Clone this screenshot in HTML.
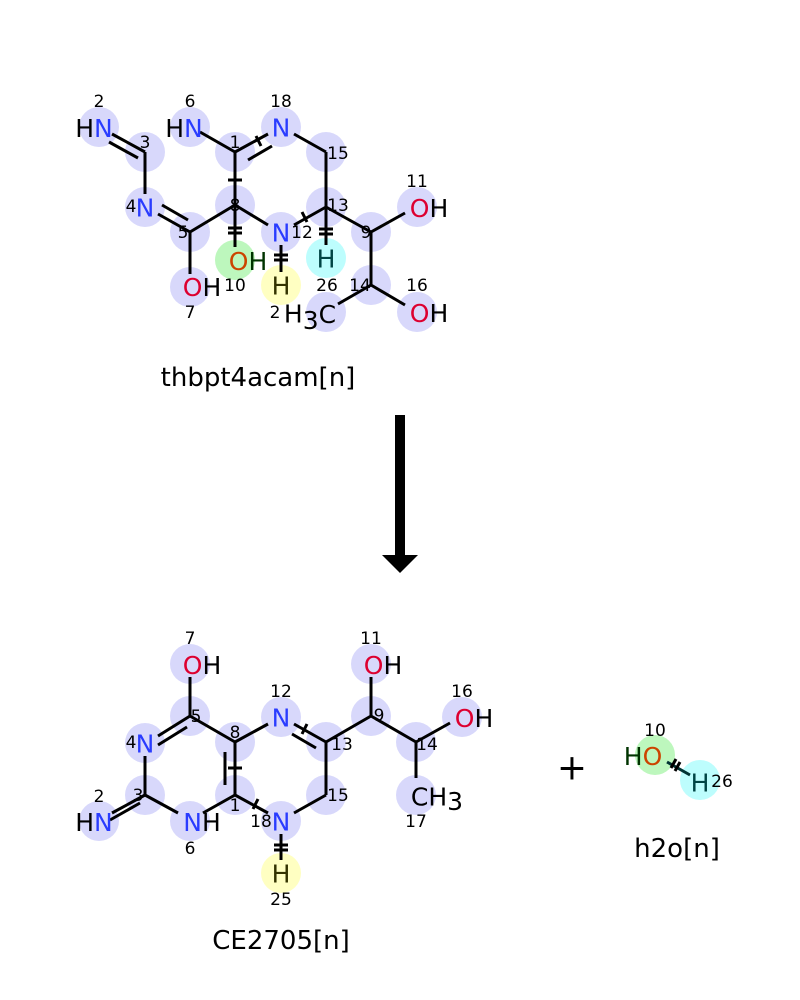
<!DOCTYPE html>
<html><head><meta charset="utf-8"><style>
html,body{margin:0;padding:0;background:#fff;}
svg{display:block;}
text{font-family:"DejaVu Sans","Liberation Sans",sans-serif;}
.a{font-size:25px;text-anchor:middle;dominant-baseline:central;}
.n{font-size:17px;text-anchor:middle;dominant-baseline:central;fill:#000;}
.t{font-size:26px;text-anchor:middle;dominant-baseline:central;}
.b{stroke:#000;stroke-width:3;fill:none;}
.c{fill:#d8d8fb;}
.N{fill:#2a3cff;} .O{fill:#dd0030;}
</style></head><body>
<svg width="800" height="1000" viewBox="0 0 800 1000" xmlns="http://www.w3.org/2000/svg">
<g class="c">
<circle cx="99" cy="127" r="20"/><circle cx="145" cy="152" r="20"/><circle cx="190" cy="127" r="20"/>
<circle cx="235" cy="152" r="20"/><circle cx="281" cy="127" r="20"/><circle cx="326" cy="152" r="20"/>
<circle cx="235" cy="205" r="20"/><circle cx="145" cy="207" r="20"/><circle cx="190" cy="232" r="20"/>
<circle cx="281" cy="232" r="20"/><circle cx="326" cy="207" r="20"/><circle cx="371" cy="232" r="20"/>
<circle cx="417" cy="207" r="20"/><circle cx="190" cy="287" r="20"/><circle cx="371" cy="285" r="20"/>
<circle cx="417" cy="312" r="20"/><circle cx="326" cy="312" r="20"/>
</g>
<circle cx="235" cy="260" r="20" fill="#bdf7bd"/>
<circle cx="326" cy="258" r="20" fill="#bdfdfd"/>
<circle cx="281" cy="285" r="20" fill="#ffffc2"/>
<g class="b">
<line x1="112" y1="134" x2="145" y2="152"/><line x1="109" y1="142" x2="138" y2="158"/>
<line x1="145" y1="152" x2="145" y2="194"/>
<line x1="158" y1="214" x2="190" y2="232"/><line x1="162" y1="205" x2="188" y2="220"/>
<line x1="190" y1="232" x2="235" y2="205"/>
<line x1="190" y1="232" x2="190" y2="274"/>
<line x1="235" y1="205" x2="235" y2="152"/><line x1="228" y1="180" x2="242" y2="180"/>
<line x1="235" y1="152" x2="200" y2="132"/>
<line x1="235" y1="152" x2="268" y2="134"/><line x1="248" y1="160" x2="272" y2="146"/><line x1="256" y1="136" x2="261" y2="146"/>
<line x1="294" y1="134" x2="326" y2="152"/>
<line x1="326" y1="152" x2="326" y2="207"/>
<line x1="326" y1="207" x2="294" y2="225"/><line x1="302" y1="212" x2="307" y2="222"/>
<line x1="268" y1="225" x2="235" y2="205"/>
<line x1="235" y1="205" x2="235" y2="247"/><line x1="228" y1="228" x2="242" y2="228"/><line x1="228" y1="233" x2="242" y2="233"/>
<line x1="281" y1="245" x2="281" y2="272"/><line x1="274" y1="255" x2="288" y2="255"/><line x1="274" y1="260" x2="288" y2="260"/>
<line x1="326" y1="207" x2="326" y2="245"/><line x1="319" y1="229" x2="333" y2="229"/><line x1="319" y1="234" x2="333" y2="234"/>
<line x1="326" y1="207" x2="371" y2="232"/>
<line x1="371" y1="232" x2="405" y2="213"/>
<line x1="371" y1="232" x2="371" y2="285"/>
<line x1="371" y1="285" x2="405" y2="305"/>
<line x1="371" y1="285" x2="338" y2="304"/>
</g>
<text class="a" x="94" y="128"><tspan>H</tspan><tspan class="N">N</tspan></text>
<text class="a" x="184" y="128"><tspan>H</tspan><tspan class="N">N</tspan></text>
<text class="a N" x="281" y="128">N</text>
<text class="a N" x="145" y="208">N</text>
<text class="a N" x="281" y="233">N</text>
<text class="a" x="429" y="208"><tspan class="O">O</tspan><tspan>H</tspan></text>
<text class="a" x="248" y="261"><tspan fill="#cc4400">O</tspan><tspan fill="#003300">H</tspan></text>
<text class="a" x="202" y="287"><tspan class="O">O</tspan><tspan>H</tspan></text>
<text class="a" x="429" y="313"><tspan class="O">O</tspan><tspan>H</tspan></text>
<text class="a" x="326" y="259" fill="#004444">H</text>
<text class="a" x="281" y="286" fill="#333300">H</text>
<text class="a" x="310" y="314">H<tspan dy="6">3</tspan><tspan dy="-6">C</tspan></text>
<g class="n">
<text x="99" y="102">2</text><text x="190" y="102">6</text><text x="281" y="102">18</text>
<text x="145" y="143">3</text><text x="235" y="143">1</text><text x="338" y="154">15</text>
<text x="131" y="207">4</text><text x="235" y="206">8</text><text x="338" y="206">13</text>
<text x="183" y="233">5</text><text x="302" y="233">12</text><text x="366" y="233">9</text>
<text x="417" y="182">11</text><text x="235" y="286">10</text><text x="327" y="286">26</text>
<text x="360" y="286">14</text><text x="417" y="286">16</text><text x="190" y="313">7</text><text x="275" y="313">2</text>
</g>
<text class="t" x="258" y="378">thbpt4acam[n]</text>

<rect x="395" y="415" width="10" height="142" fill="#000"/>
<polygon points="382,555 418,555 400,573" fill="#000"/>

<g class="c">
<circle cx="190" cy="664" r="20"/><circle cx="190" cy="716" r="20"/><circle cx="145" cy="743" r="20"/>
<circle cx="235" cy="742" r="20"/><circle cx="281" cy="717" r="20"/><circle cx="326" cy="742" r="20"/>
<circle cx="371" cy="716" r="20"/><circle cx="371" cy="664" r="20"/><circle cx="416" cy="742" r="20"/>
<circle cx="462" cy="717" r="20"/><circle cx="416" cy="795" r="20"/><circle cx="145" cy="795" r="20"/>
<circle cx="99" cy="821" r="20"/><circle cx="190" cy="821" r="20"/><circle cx="235" cy="795" r="20"/>
<circle cx="281" cy="821" r="20"/><circle cx="326" cy="795" r="20"/>
</g>
<circle cx="281" cy="873" r="20" fill="#ffffc2"/>
<g class="b">
<line x1="190" y1="677" x2="190" y2="716"/>
<line x1="190" y1="716" x2="158" y2="736"/><line x1="187" y1="727" x2="158" y2="745"/>
<line x1="190" y1="716" x2="235" y2="742"/>
<line x1="235" y1="742" x2="268" y2="724"/>
<line x1="294" y1="724" x2="326" y2="742"/><line x1="292" y1="734" x2="316" y2="748"/><line x1="302" y1="734" x2="307" y2="724"/>
<line x1="326" y1="742" x2="371" y2="716"/>
<line x1="371" y1="716" x2="371" y2="677"/>
<line x1="371" y1="716" x2="416" y2="742"/>
<line x1="416" y1="742" x2="450" y2="723"/>
<line x1="416" y1="742" x2="416" y2="778"/>
<line x1="326" y1="742" x2="326" y2="795"/>
<line x1="326" y1="795" x2="294" y2="813"/>
<line x1="268" y1="813" x2="235" y2="795"/><line x1="253" y1="809" x2="258" y2="799"/>
<line x1="235" y1="795" x2="235" y2="742"/><line x1="225" y1="752" x2="225" y2="785"/><line x1="228" y1="768" x2="242" y2="768"/>
<line x1="235" y1="795" x2="203" y2="813"/>
<line x1="178" y1="813" x2="145" y2="795"/>
<line x1="145" y1="795" x2="145" y2="756"/>
<line x1="145" y1="795" x2="112" y2="813"/><line x1="140" y1="803" x2="110" y2="820"/>
<line x1="281" y1="834" x2="281" y2="860"/><line x1="274" y1="845" x2="288" y2="845"/><line x1="274" y1="850" x2="288" y2="850"/>
</g>
<text class="a" x="202" y="665"><tspan class="O">O</tspan><tspan>H</tspan></text>
<text class="a" x="383" y="665"><tspan class="O">O</tspan><tspan>H</tspan></text>
<text class="a" x="474" y="718"><tspan class="O">O</tspan><tspan>H</tspan></text>
<text class="a N" x="145" y="744">N</text>
<text class="a N" x="281" y="718">N</text>
<text class="a" x="94" y="822"><tspan>H</tspan><tspan class="N">N</tspan></text>
<text class="a" x="202" y="822"><tspan class="N">N</tspan><tspan>H</tspan></text>
<text class="a N" x="281" y="822">N</text>
<text class="a" x="437" y="797">CH<tspan dy="4">3</tspan></text>
<text class="a" x="281" y="874" fill="#333300">H</text>
<g class="n">
<text x="190" y="639">7</text><text x="371" y="639">11</text><text x="462" y="692">16</text>
<text x="281" y="692">12</text><text x="196" y="717">5</text><text x="379" y="716">9</text>
<text x="235" y="733">8</text><text x="131" y="743">4</text><text x="342" y="745">13</text>
<text x="427" y="745">14</text><text x="138" y="796">3</text><text x="338" y="796">15</text>
<text x="99" y="797">2</text><text x="235" y="806">1</text><text x="261" y="822">18</text>
<text x="190" y="849">6</text><text x="416" y="822">17</text><text x="281" y="900">25</text>
</g>
<text class="t" x="281" y="941">CE2705[n]</text>

<text x="572" y="768" font-size="36" text-anchor="middle" dominant-baseline="central">+</text>
<circle cx="655" cy="755" r="20" fill="#bdf7bd"/>
<circle cx="700" cy="780" r="20" fill="#bdfdfd"/>
<g class="b">
<line x1="667" y1="762" x2="690" y2="775" stroke="#003333"/>
<line x1="671" y1="768" x2="676" y2="759"/><line x1="675" y1="771" x2="680" y2="762"/>
</g>
<text class="a" x="643" y="756"><tspan fill="#003300">H</tspan><tspan fill="#cc4400">O</tspan></text>
<text class="a" x="700" y="783" fill="#004444">H</text>
<text class="n" x="722" y="782">26</text>
<text class="n" x="655" y="731">10</text>
<text class="t" x="677" y="849">h2o[n]</text>
</svg>
</body></html>
